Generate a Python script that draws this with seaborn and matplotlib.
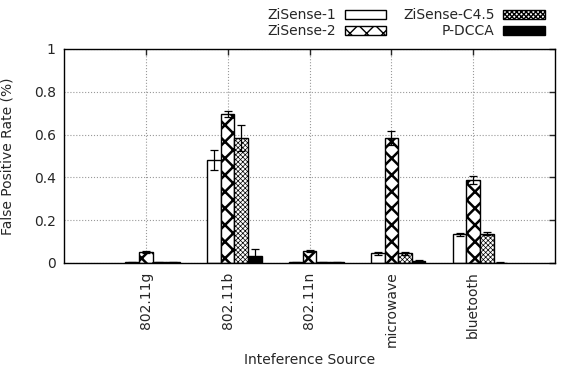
import numpy as np
import pandas as pd
import seaborn as sns
import matplotlib
matplotlib.use("Agg")
import matplotlib.pyplot as plt

# values
sources = ['802.11g', '802.11b', '802.11n', 'microwave', 'bluetooth']
methods = ['ZiSense-1', 'ZiSense-2', 'ZiSense-C4.5', 'P-DCCA']
zisense1 = [0.004, 0.48, 0.004, 0.045, 0.134]
zisense1_err = [0.002, 0.046, 0.002, 0.008, 0.008]
zisense2 = [0.05, 0.695, 0.055, 0.583, 0.388]
zisense2_err = [0.005, 0.013, 0.005, 0.033, 0.02]
zisense_c45 = [0.004, 0.585, 0.004, 0.045, 0.137]
zisense_c45_err = [0.002, 0.06, 0.002, 0.006, 0.007]
pdcca = [0.003, 0.033, 0.003, 0.01, 0.002]
pdcca_err = [0.001, 0.032, 0.001, 0.003, 0.001]

values = [zisense1, zisense2, zisense_c45, pdcca]
errors = [zisense1_err, zisense2_err, zisense_c45_err, pdcca_err]

df = pd.DataFrame({
    'source': sources * len(methods),
    'method': [m for m in methods for _ in sources],
    'rate': [v for vals in values for v in vals],
})

sns.set_style("white")
plt.rcParams['font.family'] = ['DejaVu Sans']
plt.rcParams['hatch.linewidth'] = 1.0

fig = plt.figure(figsize=(5.64, 3.72), dpi=100)
ax = fig.add_axes([64 / 564, 1 - 263 / 372, 491 / 564, 214 / 372])

colors = ['white', 'white', 'white', 'black']
sns.barplot(data=df, x='source', y='rate', hue='method', hue_order=methods,
            palette=colors, saturation=1, width=4 / 6, edgecolor='black',
            linewidth=1, errorbar=None, legend=False, ax=ax)

hatches = [None, 'xx', 'x' * 7, None]
hatch_lw = [1, 1.8, 0.5, 1]
for cont, h, hl, errs in zip(ax.containers, hatches, hatch_lw, errors):
    xs = []
    for bar in cont:
        if h:
            bar.set_hatch(h)
        if hasattr(bar, 'set_hatch_linewidth'):
            bar.set_hatch_linewidth(hl)
        xs.append(bar.get_x() + bar.get_width() / 2)
    ys = [bar.get_height() for bar in cont]
    ax.errorbar(xs, ys, yerr=errs, fmt='none', ecolor='black',
                elinewidth=0.9, capsize=3, capthick=0.9, zorder=5)

# gnuplot puts the tic on the second bar of each cluster
ticks = [b.get_x() + b.get_width() / 2 for b in ax.containers[1]]
ax.set_xticks(ticks)
ax.set_xticklabels(sources, rotation=90, fontsize=10)
ax.set_xlim(ticks[0] - 1, ticks[-1] + 1)

ax.set_ylim(0, 1)
ax.set_yticks([0, 0.2, 0.4, 0.6, 0.8, 1])
ax.set_yticklabels(['0', '0.2', '0.4', '0.6', '0.8', '1'], fontsize=10)

ax.set_axisbelow(True)
ax.grid(True, linestyle=':', color='#999999', linewidth=0.8)
ax.tick_params(direction='in', length=4, width=1, top=True, right=True,
               labeltop=False, labelright=False, pad=6)
for s in ax.spines.values():
    s.set_color('black')
    s.set_linewidth(1)

ax.set_xlabel('Inteference Source', fontsize=10, labelpad=4)
ax.set_ylabel('False Positive Rate (%)', fontsize=10, labelpad=14)

handles = [cont[0] for cont in ax.containers]
fig.legend(handles, methods, ncol=2, loc='upper right',
           bbox_to_anchor=(557 / 564, 1.012), frameon=False, markerfirst=False,
           handlelength=3, handleheight=0.6, columnspacing=1.2,
           labelspacing=0.15, handletextpad=0.6, fontsize=10)

fig.savefig('out.png', dpi=100)
